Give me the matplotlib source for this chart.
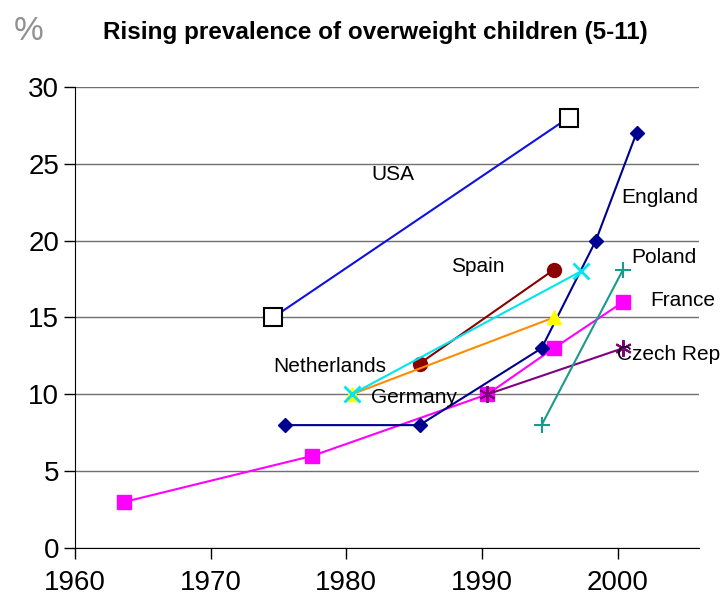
import matplotlib.pyplot as plt

plt.rcParams['font.family'] = ['Liberation Sans', 'DejaVu Sans']

# data (year, % overweight)
usa_x = [1974.6, 1996.4]
usa_y = [15, 28]
england_x = [1975.5, 1985.4, 1994.4, 1998.4, 2001.4]
england_y = [8, 8, 13, 20, 27]
spain_x = [1985.4, 1995.3]
spain_y = [12, 18.1]
netherlands_x = [1980.4, 1997.3]
netherlands_y = [10, 18]
germany_x = [1980.4, 1995.3]
germany_y = [10, 15]
france_x = [1963.6, 1977.5, 1990.4, 1995.3, 2000.4]
france_y = [3, 6, 10, 13, 16]
czech_x = [1990.4, 2000.4]
czech_y = [10, 13]
poland_x = [1994.4, 2000.4]
poland_y = [8, 18.1]

fig = plt.figure(figsize=(7.22, 6.03), dpi=100)
ax = fig.add_axes([0.104, 0.091, 0.864, 0.765])

ax.plot(usa_x, usa_y, color='#1010e0', lw=1.5, marker='s', ms=13,
        mfc='white', mec='black', mew=1.5)
ax.plot(france_x, france_y, color='#ff00ff', lw=1.5, marker='s', ms=10,
        mfc='#ff00ff', mec='#ff00ff')
ax.plot(czech_x, czech_y, color='#800080', lw=1.5, marker=(6, 2, 0), ms=12,
        mec='#800080', mew=1.5)
ax.plot(england_x, england_y, color='#000090', lw=1.5, marker='D', ms=7,
        mfc='#000090', mec='#000090')
ax.plot(spain_x, spain_y, color='#8b0000', lw=1.5, marker='o', ms=10,
        mfc='#8b0000', mec='#8b0000')
ax.plot(germany_x, germany_y, color='#ff8c00', lw=1.5, marker='^', ms=10,
        mfc='#ffff00', mec='#ffff00')
ax.plot(netherlands_x, netherlands_y, color='#00e5ee', lw=1.5, marker='x',
        ms=11, mec='#00e5ee', mew=2)
ax.plot(poland_x, poland_y, color='#1a9a8a', lw=1.5, marker='+', ms=12,
        mec='#1a9a8a', mew=1.5)

lab = dict(fontsize=15, color='black', va='center', ha='center')
ax.text(1983.4, 24.3, 'USA', **lab)
ax.text(2003.1, 22.8, 'England', **lab)
ax.text(1989.7, 18.3, 'Spain', **lab)
ax.text(2003.4, 18.9, 'Poland', **lab)
ax.text(2004.8, 16.1, 'France', **lab)
ax.text(1978.8, 11.8, 'Netherlands', **lab)
ax.text(1985.0, 9.8, 'Germany', **lab)
ax.text(2003.8, 12.6, 'Czech Rep', **lab)

ax.set_xlim(1960, 2006)
ax.set_ylim(0, 30)
ax.set_xticks([1960, 1970, 1980, 1990, 2000])
ax.set_yticks([0, 5, 10, 15, 20, 25, 30])
ax.tick_params(labelsize=20, length=8, width=1)
ax.tick_params(axis='x', pad=8)
for t in ax.get_xticklabels() + ax.get_yticklabels():
    t.set_family(['Liberation Sans Narrow', 'Liberation Sans'])
ax.grid(axis='y', color='#707070', lw=1)
ax.set_axisbelow(True)
for s in ['top', 'right']:
    ax.spines[s].set_visible(False)

fig.text(0.52, 0.946, 'Rising prevalence of overweight children (5-11)',
         ha='center', va='center', fontsize=17.5, fontweight='bold')
fig.text(0.04, 0.948, '%', ha='center', va='center', fontsize=24,
         color='#909090')

plt.savefig('out.png')
